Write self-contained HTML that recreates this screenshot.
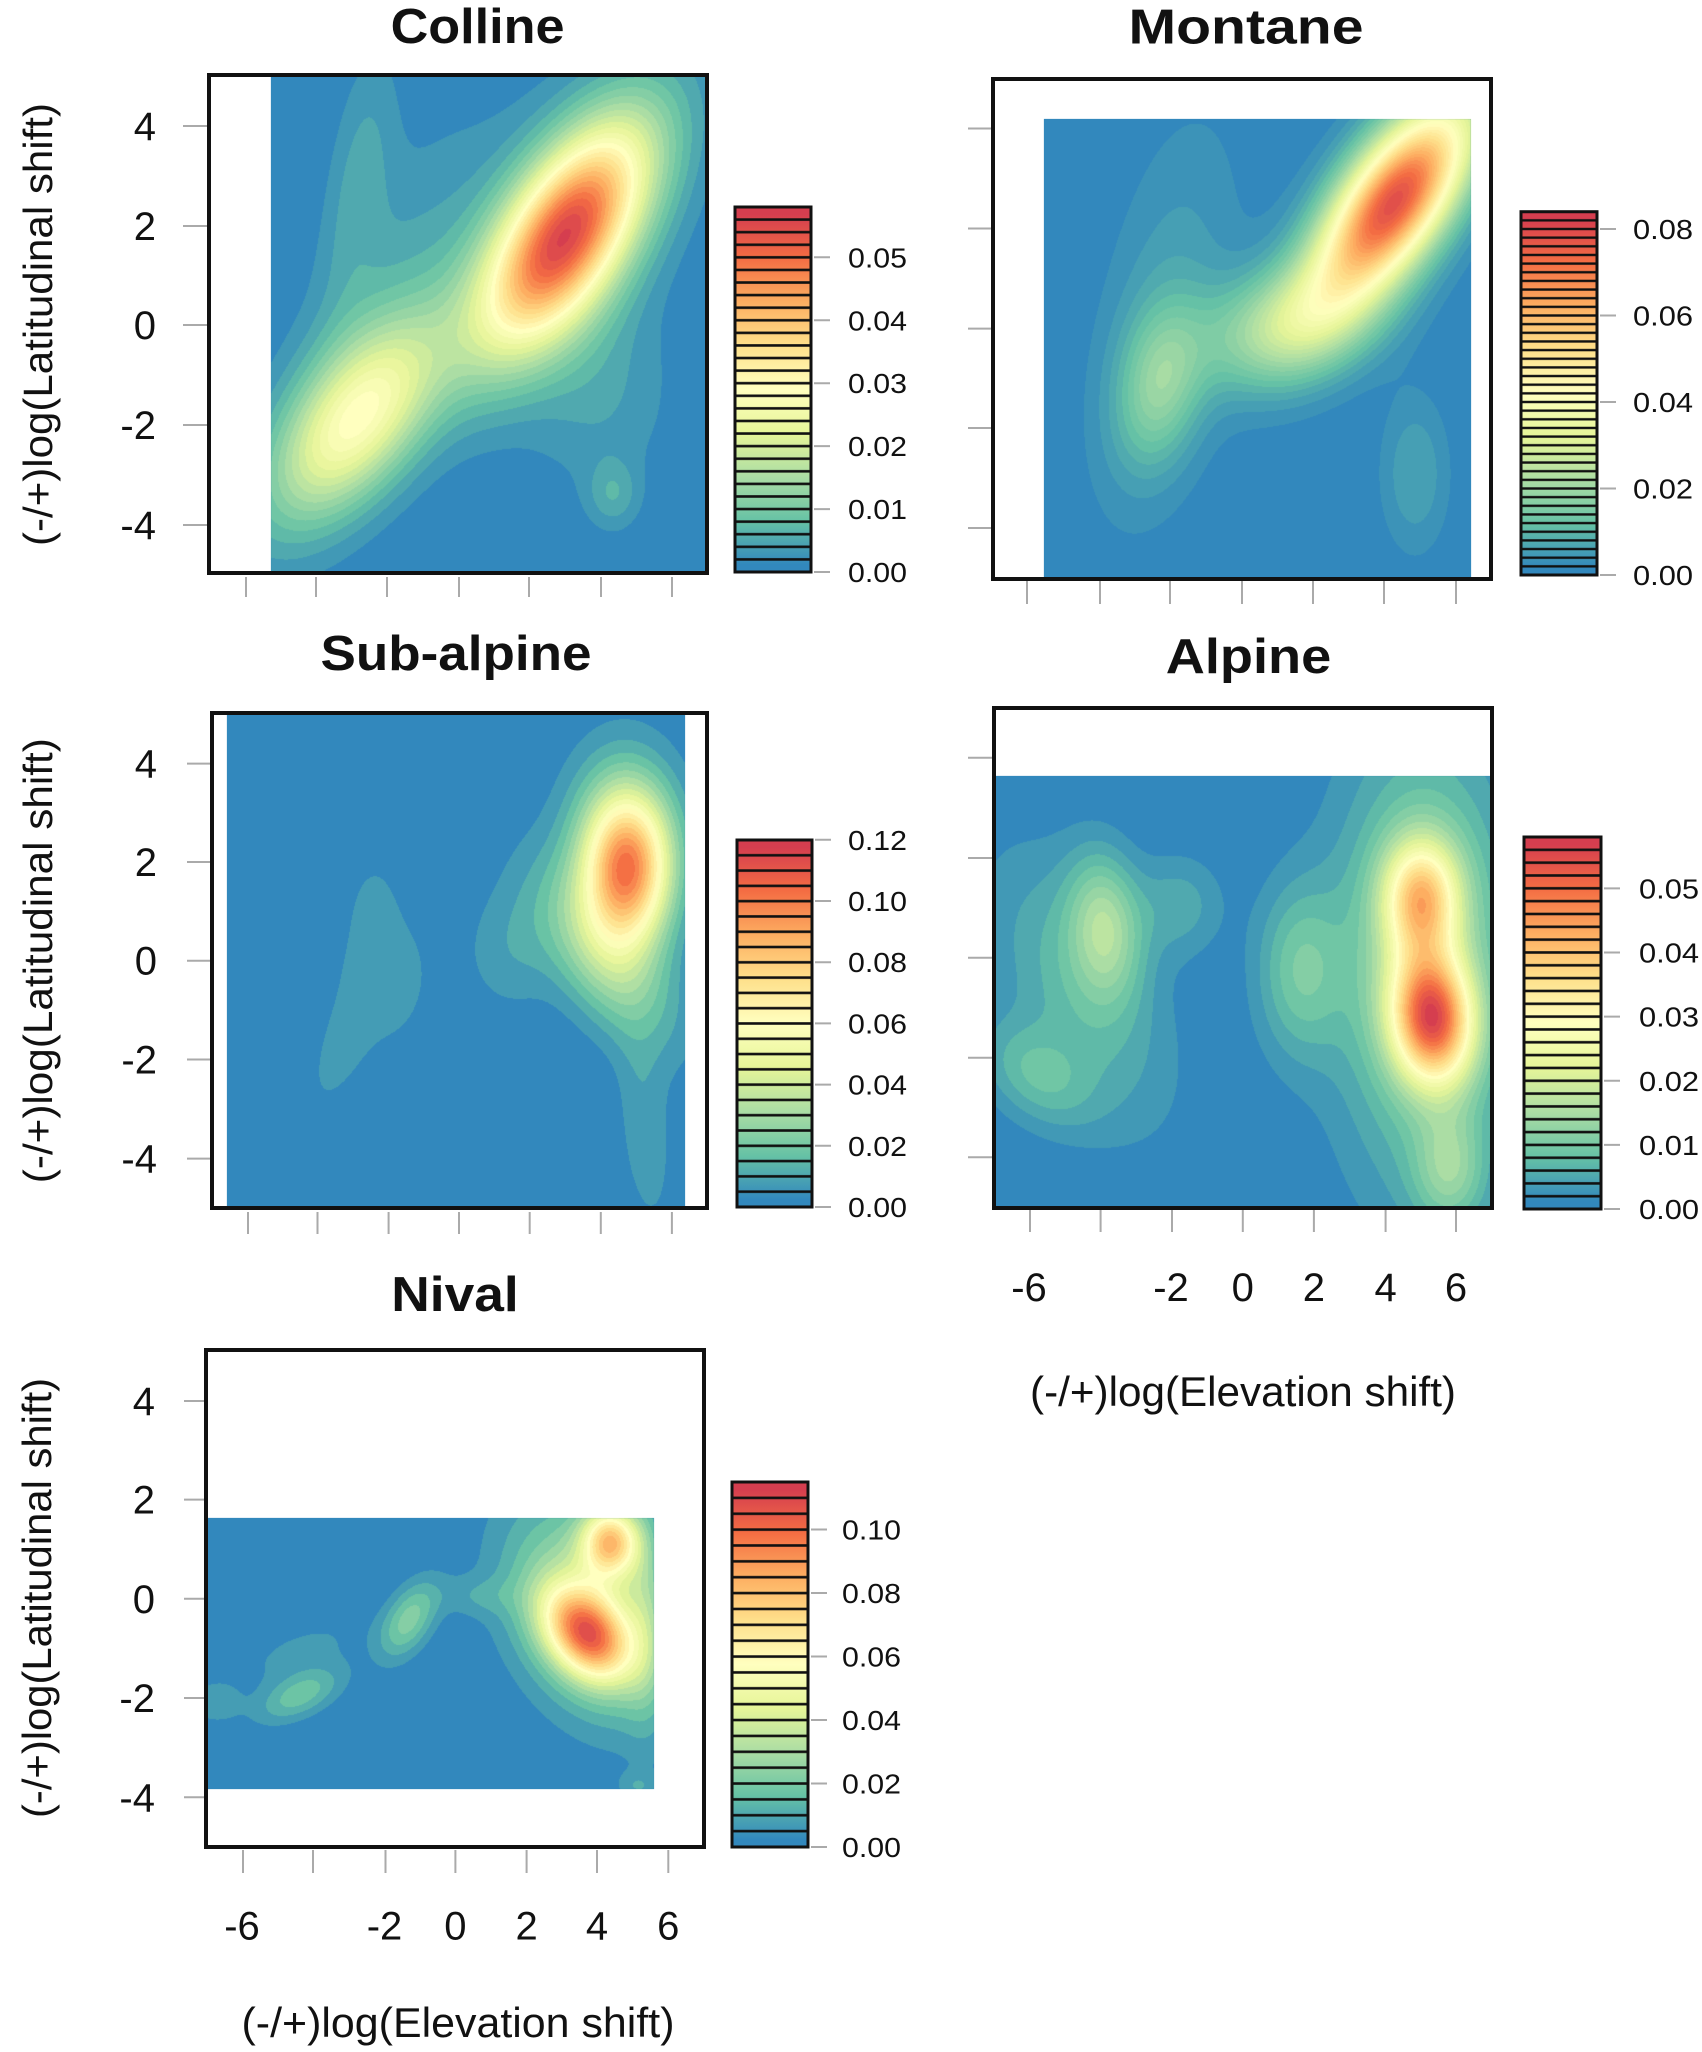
<!DOCTYPE html>
<html><head><meta charset="utf-8">
<style>
html,body{margin:0;padding:0;background:#fff;}
#wrap{position:relative;width:1702px;height:2052px;overflow:hidden;background:#fff;}
canvas,svg{position:absolute;left:0;top:0;}
.fb{position:absolute;background:#3288BD;}
</style></head><body><div id="wrap">
<div class="fb" style="left:271px;top:75px;width:436px;height:498px"></div>
<div class="fb" style="left:1044px;top:119px;width:427px;height:460px"></div>
<div class="fb" style="left:227px;top:713px;width:458px;height:495px"></div>
<div class="fb" style="left:994px;top:776px;width:498px;height:432px"></div>
<div class="fb" style="left:206px;top:1518px;width:448px;height:271px"></div>
<canvas id="c" width="1702" height="2052"></canvas>
<svg width="1702" height="2052" viewBox="0 0 1702 2052" xmlns="http://www.w3.org/2000/svg" font-family="'Liberation Sans', Arial, sans-serif" fill="#111">
<defs>
<linearGradient id="gr" x1="0" y1="1" x2="0" y2="0">
<stop offset="0.02" stop-color="#3288BD"/><stop offset="0.14" stop-color="#66C2A5"/><stop offset="0.26" stop-color="#ABDDA4"/><stop offset="0.38" stop-color="#E6F598"/><stop offset="0.50" stop-color="#FFFFBF"/><stop offset="0.62" stop-color="#FEE08B"/><stop offset="0.74" stop-color="#FDAE61"/><stop offset="0.86" stop-color="#F46D43"/><stop offset="0.98" stop-color="#D53E4F"/>
</linearGradient>
<pattern id="s1" patternUnits="userSpaceOnUse" x="735" y="207" width="76" height="12.586"><rect x="0" y="0" width="76" height="1.3" fill="#111"/><rect x="0" y="11.286" width="76" height="1.3" fill="#111"/></pattern>
<pattern id="s2" patternUnits="userSpaceOnUse" x="1521" y="211.7" width="76" height="8.65"><rect x="0" y="0" width="76" height="1.2" fill="#111"/><rect x="0" y="7.45" width="76" height="1.2" fill="#111"/></pattern>
<pattern id="s3" patternUnits="userSpaceOnUse" x="737" y="840" width="75" height="15.29"><rect x="0" y="0" width="75" height="1.3" fill="#111"/><rect x="0" y="13.99" width="75" height="1.3" fill="#111"/></pattern>
<pattern id="s4" patternUnits="userSpaceOnUse" x="1524" y="837" width="77" height="12.83"><rect x="0" y="0" width="77" height="1.3" fill="#111"/><rect x="0" y="11.53" width="77" height="1.3" fill="#111"/></pattern>
<pattern id="s5" patternUnits="userSpaceOnUse" x="732" y="1482" width="76" height="15.87"><rect x="0" y="0" width="76" height="1.3" fill="#111"/><rect x="0" y="14.57" width="76" height="1.3" fill="#111"/></pattern>
</defs>

<!-- Titles -->
<g font-weight="bold" font-size="49" text-anchor="middle">
<text x="477.6" y="43" textLength="174" lengthAdjust="spacingAndGlyphs">Colline</text>
<text x="1246" y="43.5" textLength="235" lengthAdjust="spacingAndGlyphs">Montane</text>
<text x="456" y="670" textLength="271" lengthAdjust="spacingAndGlyphs">Sub-alpine</text>
<text x="1248.5" y="673" textLength="165.5" lengthAdjust="spacingAndGlyphs">Alpine</text>
<text x="455" y="1311" textLength="127.5" lengthAdjust="spacingAndGlyphs">Nival</text>
</g>

<!-- Y axis titles -->
<g font-size="41" text-anchor="middle">
<text transform="translate(52,324.5) rotate(-90)" textLength="443" lengthAdjust="spacingAndGlyphs">(-/+)log(Latitudinal shift)</text>
<text transform="translate(52,960.7) rotate(-90)" textLength="445" lengthAdjust="spacingAndGlyphs">(-/+)log(Latitudinal shift)</text>
<text transform="translate(51,1598) rotate(-90)" textLength="440" lengthAdjust="spacingAndGlyphs">(-/+)log(Latitudinal shift)</text>
</g>

<!-- X axis titles -->
<g font-size="42" text-anchor="middle">
<text x="1243" y="1406" textLength="426" lengthAdjust="spacingAndGlyphs">(-/+)log(Elevation shift)</text>
<text x="458" y="2037" textLength="433" lengthAdjust="spacingAndGlyphs">(-/+)log(Elevation shift)</text>
</g>

<!-- Ticks -->
<g stroke="#aaaaaa" stroke-width="2" fill="none">
<path d="M183 126H207M183 226H207M183 325H207M183 425H207M183 525H207"/>
<path d="M246 577V597M316 577V597M387 577V597M459 577V597M529 577V597M601 577V597M672 577V597"/>
<path d="M968 128.5H991M968 228.5H991M968 328.6H991M968 428H991M968 528H991"/>
<path d="M1027 581V604M1100 581V604M1170 581V604M1242 581V604M1313 581V604M1384 581V604M1456 581V604"/>
<path d="M187 763.6H210M187 862H210M187 960.7H210M187 1059.5H210M187 1158.6H210"/>
<path d="M248 1212V1234M317.5 1212V1234M388.6 1212V1234M459 1212V1234M529.7 1212V1234M600.8 1212V1234M671.9 1212V1234"/>
<path d="M968 757.8H992M968 858H992M968 957.8H992M968 1057.7H992M968 1157.3H992"/>
<path d="M1030 1210V1232M1100.6 1210V1232M1172 1210V1232M1242.8 1210V1232M1313.9 1210V1232M1385.6 1210V1232M1456 1210V1232"/>
<path d="M184 1401H204M184 1499.6H204M184 1598.8H204M184 1698H204M184 1797.3H204"/>
<path d="M243 1850V1873M313 1850V1873M385.5 1850V1873M455.4 1850V1873M526.6 1850V1873M597 1850V1873M668.3 1850V1873"/>
<path d="M814 572H830M814 509.1H830M814 446.1H830M814 383.2H830M814 320.3H830M814 257.3H830"/>
<path d="M1600 575H1616M1600 488.5H1616M1600 402H1616M1600 315.5H1616M1600 229H1616"/>
<path d="M815 1207H831M815 1145.8H831M815 1084.6H831M815 1023.4H831M815 962.2H831M815 901H831M815 839.8H831"/>
<path d="M1604 1209H1620M1604 1144.9H1620M1604 1080.8H1620M1604 1016.6H1620M1604 952.5H1620M1604 888.4H1620"/>
<path d="M811 1847H827M811 1783.5H827M811 1720H827M811 1656.5H827M811 1593H827M811 1529.5H827"/>
</g>

<!-- Y tick labels -->
<g font-size="40" text-anchor="end">
<text x="156" y="140">4</text><text x="156" y="240">2</text><text x="156" y="339">0</text><text x="156" y="439">-2</text><text x="156" y="539">-4</text>
<text x="157" y="777.6">4</text><text x="157" y="876">2</text><text x="157" y="974.7">0</text><text x="157" y="1073.5">-2</text><text x="157" y="1172.6">-4</text>
<text x="155" y="1415">4</text><text x="155" y="1513.6">2</text><text x="155" y="1612.8">0</text><text x="155" y="1712">-2</text><text x="155" y="1811.3">-4</text>
</g>

<!-- X tick labels -->
<g font-size="40" text-anchor="middle">
<text x="1029" y="1301">-6</text><text x="1171" y="1301">-2</text><text x="1242.8" y="1301">0</text><text x="1313.9" y="1301">2</text><text x="1385.6" y="1301">4</text><text x="1456" y="1301">6</text>
<text x="242" y="1939.5">-6</text><text x="384.5" y="1939.5">-2</text><text x="455.4" y="1939.5">0</text><text x="526.6" y="1939.5">2</text><text x="597" y="1939.5">4</text><text x="668.3" y="1939.5">6</text>
</g>

<!-- Colorbar labels -->
<g font-size="28">
<text x="848" y="582" textLength="59" lengthAdjust="spacingAndGlyphs">0.00</text>
<text x="848" y="519.1" textLength="59" lengthAdjust="spacingAndGlyphs">0.01</text>
<text x="848" y="456.1" textLength="59" lengthAdjust="spacingAndGlyphs">0.02</text>
<text x="848" y="393.2" textLength="59" lengthAdjust="spacingAndGlyphs">0.03</text>
<text x="848" y="330.3" textLength="59" lengthAdjust="spacingAndGlyphs">0.04</text>
<text x="848" y="267.3" textLength="59" lengthAdjust="spacingAndGlyphs">0.05</text>

<text x="1633" y="585" textLength="60" lengthAdjust="spacingAndGlyphs">0.00</text>
<text x="1633" y="498.5" textLength="60" lengthAdjust="spacingAndGlyphs">0.02</text>
<text x="1633" y="412" textLength="60" lengthAdjust="spacingAndGlyphs">0.04</text>
<text x="1633" y="325.5" textLength="60" lengthAdjust="spacingAndGlyphs">0.06</text>
<text x="1633" y="239" textLength="60" lengthAdjust="spacingAndGlyphs">0.08</text>

<text x="848" y="1217" textLength="59" lengthAdjust="spacingAndGlyphs">0.00</text>
<text x="848" y="1155.8" textLength="59" lengthAdjust="spacingAndGlyphs">0.02</text>
<text x="848" y="1094.6" textLength="59" lengthAdjust="spacingAndGlyphs">0.04</text>
<text x="848" y="1033.4" textLength="59" lengthAdjust="spacingAndGlyphs">0.06</text>
<text x="848" y="972.2" textLength="59" lengthAdjust="spacingAndGlyphs">0.08</text>
<text x="848" y="911" textLength="59" lengthAdjust="spacingAndGlyphs">0.10</text>
<text x="848" y="849.8" textLength="59" lengthAdjust="spacingAndGlyphs">0.12</text>

<text x="1639" y="1219" textLength="60" lengthAdjust="spacingAndGlyphs">0.00</text>
<text x="1639" y="1154.9" textLength="60" lengthAdjust="spacingAndGlyphs">0.01</text>
<text x="1639" y="1090.8" textLength="60" lengthAdjust="spacingAndGlyphs">0.02</text>
<text x="1639" y="1026.6" textLength="60" lengthAdjust="spacingAndGlyphs">0.03</text>
<text x="1639" y="962.5" textLength="60" lengthAdjust="spacingAndGlyphs">0.04</text>
<text x="1639" y="898.4" textLength="60" lengthAdjust="spacingAndGlyphs">0.05</text>

<text x="842" y="1857" textLength="59" lengthAdjust="spacingAndGlyphs">0.00</text>
<text x="842" y="1793.5" textLength="59" lengthAdjust="spacingAndGlyphs">0.02</text>
<text x="842" y="1730" textLength="59" lengthAdjust="spacingAndGlyphs">0.04</text>
<text x="842" y="1666.5" textLength="59" lengthAdjust="spacingAndGlyphs">0.06</text>
<text x="842" y="1603" textLength="59" lengthAdjust="spacingAndGlyphs">0.08</text>
<text x="842" y="1539.5" textLength="59" lengthAdjust="spacingAndGlyphs">0.10</text>
</g>

<!-- Colorbars -->
<rect x="735" y="207" width="76" height="365" fill="url(#gr)"/>
<rect x="735" y="207" width="76" height="365" fill="url(#s1)"/>
<rect x="735" y="207" width="76" height="365" fill="none" stroke="#111" stroke-width="3"/>

<rect x="1521" y="211.7" width="76" height="363.3" fill="url(#gr)"/>
<rect x="1521" y="211.7" width="76" height="363.3" fill="url(#s2)"/>
<rect x="1521" y="211.7" width="76" height="363.3" fill="none" stroke="#111" stroke-width="3"/>

<rect x="737" y="840" width="75" height="367" fill="url(#gr)"/>
<rect x="737" y="840" width="75" height="367" fill="url(#s3)"/>
<rect x="737" y="840" width="75" height="367" fill="none" stroke="#111" stroke-width="3"/>

<rect x="1524" y="837" width="77" height="372" fill="url(#gr)"/>
<rect x="1524" y="837" width="77" height="372" fill="url(#s4)"/>
<rect x="1524" y="837" width="77" height="372" fill="none" stroke="#111" stroke-width="3"/>

<rect x="732" y="1482" width="76" height="365" fill="url(#gr)"/>
<rect x="732" y="1482" width="76" height="365" fill="url(#s5)"/>
<rect x="732" y="1482" width="76" height="365" fill="none" stroke="#111" stroke-width="3"/>

<!-- Plot boxes -->
<g fill="none" stroke="#111" stroke-width="4">
<rect x="209" y="75" width="498" height="498"/>
<rect x="993" y="79" width="498" height="500"/>
<rect x="212" y="713" width="495" height="495"/>
<rect x="994" y="708" width="498" height="500"/>
<rect x="206" y="1350" width="498" height="497"/>
</g>
</svg>
</div>
<script>
(function(){
var C=document.getElementById('c'),ctx=C.getContext('2d');
var hex=["#3288BD","#66C2A5","#ABDDA4","#E6F598","#FFFFBF","#FEE08B","#FDAE61","#F46D43","#D53E4F"];
var pal=hex.map(function(h){return [parseInt(h.slice(1,3),16),parseInt(h.slice(3,5),16),parseInt(h.slice(5,7),16)];});
function ramp(t){var s=t*8,i=Math.floor(s);if(i>=8)i=7;if(i<0)i=0;var f=s-i,a=pal[i],b=pal[i+1];return [Math.round(a[0]+(b[0]-a[0])*f),Math.round(a[1]+(b[1]-a[1])*f),Math.round(a[2]+(b[2]-a[2])*f)];}
function cols(n){var r=[];for(var i=0;i<n;i++)r.push(ramp(n==1?0:i/(n-1)));return r;}
var P=[
 {r:[271,75,707,573],n:29,st:0.002,g:[
  [564,237,88,40,58,0.051],
  [358,419,80,40,52,0.026],
  [613,494,24,18,90,0.005],
  [360,175,90,22,82,0.0045],
  [575,230,120,58,60,0.005],
  [380,320,150,50,65,0.0045],
  [600,390,50,70,0,0.004]
 ]},
 {r:[1044,119,1471,579],n:42,st:0.002,g:[
  [1394,202,80,34,55,0.073],
  [1290,325,60,38,20,0.022],
  [1160,385,55,28,80,0.014],
  [1165,320,140,45,80,0.0055],
  [1415,474,55,24,90,0.006],
  [1390,210,120,45,55,0.006]
 ]},
 {r:[227,713,685,1208],n:24,st:0.005,g:[
  [627,869,52,30,90,0.085],
  [625,835,65,42,92,0.018],
  [605,955,70,35,124,0.028],
  [645,1130,70,18,95,0.009],
  [510,950,45,30,90,0.008],
  [383,975,68,44,90,0.0072],
  [374,905,30,14,90,0.004],
  [338,1055,42,16,70,0.0062]
 ]},
 {r:[994,776,1492,1208],n:29,st:0.002,g:[
  [1432,1018,45,28,95,0.044],
  [1421,898,40,26,90,0.030],
  [1425,960,150,60,90,0.014],
  [1300,970,60,30,90,0.009],
  [1450,1170,40,25,90,0.010],
  [1105,925,50,25,95,0.013],
  [1035,1075,45,30,140,0.007],
  [1080,990,100,50,115,0.007],
  [1180,905,35,30,90,0.005]
 ]},
 {r:[206,1518,654,1789],n:23,st:0.005,g:[
  [587,1634,36,25,-50,0.075],
  [611,1541,24,20,90,0.065],
  [590,1610,75,50,-65,0.036],
  [409,1620,30,16,60,0.022],
  [300,1695,32,15,25,0.018],
  [215,1703,18,14,0,0.009],
  [300,1650,55,20,20,0.006],
  [638,1786,14,10,0,0.008],
  [645,1610,80,14,90,0.012],
  [478,1596,28,14,0,0.007]
 ]}
];
P.forEach(function(p){
 var x0=p.r[0],y0=p.r[1],x1=p.r[2],y1=p.r[3],w=x1-x0,h=y1-y0;
 var im=ctx.createImageData(w,h),d=im.data,cs=cols(p.n);
 var G=p.g.map(function(q){var t=q[4]*Math.PI/180;return [q[0],q[1],1/(2*q[2]*q[2]),1/(2*q[3]*q[3]),Math.cos(t),Math.sin(t),q[5]];});
 for(var j=0;j<h;j++){var py=y0+j+0.5;
  for(var i=0;i<w;i++){var px=x0+i+0.5,v=0;
   for(var k=0;k<G.length;k++){var q=G[k],dx=px-q[0],dy=q[1]-py,u=dx*q[4]+dy*q[5],vv=-dx*q[5]+dy*q[4],e=u*u*q[2]+vv*vv*q[3];if(e<30)v+=q[6]*Math.exp(-e);}
   var b=Math.floor(v/p.st);if(b>p.n-1)b=p.n-1;if(b<0)b=0;
   var c=cs[b],o=(j*w+i)*4;d[o]=c[0];d[o+1]=c[1];d[o+2]=c[2];d[o+3]=255;}}
 ctx.putImageData(im,x0,y0);
});
})();
</script>
</body></html>
